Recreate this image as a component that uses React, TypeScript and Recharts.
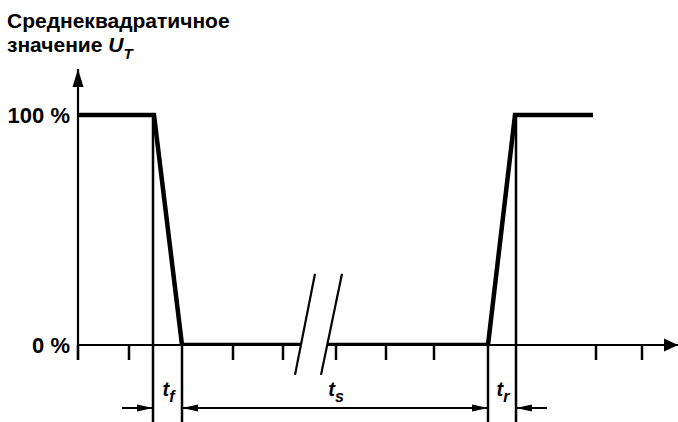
import React from 'react';
import { LineChart, Line, XAxis, YAxis, ReferenceLine } from 'recharts';

// Signal (x in time units, y in % of U_T)
const signalBefore = [
  { x: 0, y: 100 },
  { x: 76, y: 100 },
  { x: 104, y: 0 },
  { x: 223, y: 0 },
];
const signalAfter = [
  { x: 249, y: 0 },
  { x: 410, y: 0 },
  { x: 437, y: 100 },
  { x: 515, y: 100 },
];
const xTicks = [0, 51, 155, 205, 258, 308, 356, 518, 564];
const yTicks = [0, 100];
// vertical marker lines: x position and top value
const markerX = [75, 104, 410, 438];
const markerTop = [100, 0, 0, 100];
const bottomY = -34;
const dimY = -27.4;
const spanFrom = [75, 104, 410];
const spanTo = [104, 410, 438];
const spanLabel = ['f', 's', 'r'];
const FONT = '"Liberation Sans", Arial, sans-serif';

type P = { x1?: number; y1?: number; x2?: number; y2?: number };

function Arrow(p: P & { start?: boolean; end?: boolean; up?: boolean; len: number; half: number; sw: number }) {
  let x1 = Number(p.x1), y1 = Number(p.y1), x2 = Number(p.x2), y2 = Number(p.y2);
  if (p.up && y2 > y1) {
    [x1, x2] = [x2, x1];
    [y1, y2] = [y2, y1];
  }
  const dx = x2 - x1, dy = y2 - y1;
  const L = Math.hypot(dx, dy) || 1;
  const ux = dx / L, uy = dy / L;
  const nx = -uy, ny = ux;
  const head = (tx: number, ty: number, dir: number) => {
    const bx = tx - dir * ux * p.len, by = ty - dir * uy * p.len;
    return `${tx},${ty} ${bx + nx * p.half},${by + ny * p.half} ${bx - nx * p.half},${by - ny * p.half}`;
  };
  return (
    <g>
      <line x1={x1} y1={y1} x2={x2} y2={y2} stroke="#000" strokeWidth={p.sw} />
      {p.end && <polygon points={head(x2, y2, 1)} fill="#000" />}
      {p.start && <polygon points={head(x1, y1, -1)} fill="#000" />}
    </g>
  );
}

function SpanLabel(p: P & { sub: string }) {
  const mid = (Number(p.x1) + Number(p.x2)) / 2 + 1;
  const y = Number(p.y1) - 12;
  return (
    <text x={mid} y={y} textAnchor="middle" fontFamily={FONT} fontWeight="bold" fontStyle="italic" fontSize={20} fill="#000">
      t<tspan fontSize={16} dy={6}>{p.sub}</tspan>
    </text>
  );
}

const EmptyTick = () => <g />;

export default function App() {
  return (
    <div style={{ position: 'absolute', left: 0, top: 0, width: 678, height: 422, background: '#fff' }}>
      <svg width={678} height={70} style={{ position: 'absolute', left: 0, top: 0 }}>
        <text x={7} y={28} fontFamily={FONT} fontWeight="bold" fontSize={21} fill="#000">Среднеквадратичное</text>
        <text x={7} y={52} fontFamily={FONT} fontWeight="bold" fontSize={21} fill="#000">
          значение <tspan fontStyle="italic">U</tspan>
          <tspan fontStyle="italic" fontSize={15} dy={7}>T</tspan>
        </text>
      </svg>
      <LineChart width={678} height={422} margin={{ top: 69, right: 0, bottom: 0, left: 0 }} style={{ position: 'absolute', left: 0, top: 0 }}>
        <XAxis
          type="number"
          dataKey="x"
          domain={[0, 600]}
          ticks={xTicks}
          height={77}
          axisLine={false}
          stroke="#000"
          tick={EmptyTick}
          tickSize={15}
          tickLine={{ stroke: '#000', strokeWidth: 2.5 }}
          allowDataOverflow
        />
        <YAxis
          type="number"
          dataKey="y"
          domain={[0, 120]}
          ticks={yTicks}
          width={78}
          axisLine={false}
          tickLine={false}
          tickSize={0}
          tickMargin={8}
          tickFormatter={(v: number) => `${v} %`}
          tick={{ fill: '#000', fontSize: 22, fontWeight: 'bold', fontFamily: FONT }}
          allowDataOverflow
        />
        {/* axes */}
        <ReferenceLine
          segment={[{ x: 0, y: -6.5 }, { x: 0, y: 120 }]}
          ifOverflow="visible"
          shape={(p: P) => <Arrow {...p} end up len={18} half={5.5} sw={2.2} />}
        />
        <ReferenceLine
          segment={[{ x: 0, y: 0 }, { x: 223, y: 0 }]}
          ifOverflow="visible"
          shape={(p: P) => <Arrow {...p} len={0} half={0} sw={2.2} />}
        />
        <ReferenceLine
          segment={[{ x: 249, y: 0 }, { x: 600, y: 0 }]}
          ifOverflow="visible"
          shape={(p: P) => <Arrow {...p} end len={14} half={6.5} sw={2.2} />}
        />
        {/* vertical marker lines */}
        {markerX.map((mx, i) => (
          <ReferenceLine
            key={`m${i}`}
            segment={[{ x: mx, y: markerTop[i] }, { x: mx, y: bottomY }]}
            ifOverflow="visible"
            stroke="#000"
            strokeWidth={2.5}
          />
        ))}
        {/* break marks */}
        <ReferenceLine segment={[{ x: 217, y: -13 }, { x: 237, y: 31 }]} ifOverflow="visible" stroke="#000" strokeWidth={2.2} />
        <ReferenceLine segment={[{ x: 243, y: -13 }, { x: 264, y: 31 }]} ifOverflow="visible" stroke="#000" strokeWidth={2.2} />
        {/* dimension arrows */}
        <ReferenceLine
          segment={[{ x: 44, y: dimY }, { x: 75, y: dimY }]}
          ifOverflow="visible"
          shape={(p: P) => <Arrow {...p} end len={16} half={3.5} sw={2} />}
        />
        <ReferenceLine
          segment={[{ x: 104, y: dimY }, { x: 410, y: dimY }]}
          ifOverflow="visible"
          shape={(p: P) => <Arrow {...p} start end len={16} half={3.5} sw={2} />}
        />
        <ReferenceLine
          segment={[{ x: 469, y: dimY }, { x: 438, y: dimY }]}
          ifOverflow="visible"
          shape={(p: P) => <Arrow {...p} end len={16} half={3.5} sw={2} />}
        />
        {spanFrom.map((a, i) => (
          <ReferenceLine
            key={`s${i}`}
            segment={[{ x: a, y: dimY }, { x: spanTo[i], y: dimY }]}
            ifOverflow="visible"
            shape={(p: P) => <SpanLabel {...p} sub={spanLabel[i]} />}
          />
        ))}
        <Line data={signalBefore} dataKey="y" type="linear" stroke="#000" strokeWidth={4.5} strokeLinejoin="miter" dot={false} activeDot={false} isAnimationActive={false} />
        <Line data={signalAfter} dataKey="y" type="linear" stroke="#000" strokeWidth={4.5} strokeLinejoin="miter" dot={false} activeDot={false} isAnimationActive={false} />
      </LineChart>
    </div>
  );
}
